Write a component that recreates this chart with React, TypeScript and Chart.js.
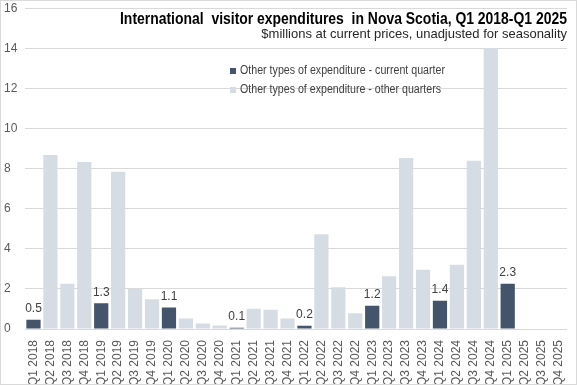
import React, { useEffect, useRef } from "react";
import { Chart, registerables } from "chart.js";

Chart.register(...registerables);

const quarters: string[] = [];
const years = [2018, 2019, 2020, 2021, 2022, 2023, 2024, 2025];
for (const y of years) for (const q of [1, 2, 3, 4]) quarters.push(`Q${q} ${y}`);

// Other types of expenditure - current quarter (Q1 values)
const currentQuarter: (number | null)[] = [
  0.46, null, null, null,
  1.28, null, null, null,
  1.07, null, null, null,
  0.06, null, null, null,
  0.16, null, null, null,
  1.16, null, null, null,
  1.41, null, null, null,
  2.26, null, null, null,
];

// Other types of expenditure - other quarters
const otherQuarters: (number | null)[] = [
  null, 8.68, 2.26, 8.33,
  null, 7.84, 2.0, 1.48,
  null, 0.52, 0.28, 0.17,
  null, 1.01, 0.96, 0.52,
  null, 4.73, 2.08, 0.78,
  null, 2.63, 8.53, 2.96,
  null, 3.2, 8.39, 14.0,
  null, null, null, null,
];

const yTicks = [0, 2, 4, 6, 8, 10, 12, 14, 16];

const titleText = "International  visitor expenditures  in Nova Scotia, Q1 2018-Q1 2025";
const subtitleText = "$millions at current prices, unadjusted for seasonality";
const legendCurrent = "Other types of expenditure - current quarter";
const legendOther = "Other types of expenditure - other quarters";

const DARK = "#44546A";
const LIGHT = "#D6DCE4";
const SANS = '"Liberation Sans", Arial, sans-serif';

// draw text horizontally compressed to a target width
function drawFitted(
  ctx: CanvasRenderingContext2D,
  text: string,
  x: number,
  y: number,
  width: number,
  align: "left" | "right"
) {
  const w = ctx.measureText(text).width;
  const s = Math.min(1, width / w);
  ctx.save();
  ctx.translate(x, y);
  ctx.scale(s, 1);
  ctx.textAlign = align;
  ctx.fillText(text, 0, 0);
  ctx.restore();
}

const overlayPlugin = {
  id: "overlay",
  afterDatasetsDraw(chart: any) {
    const ctx = chart.ctx as CanvasRenderingContext2D;
    ctx.save();
    const meta = chart.getDatasetMeta(0);
    ctx.font = `12px ${SANS}`;
    ctx.fillStyle = "#404040";
    ctx.textAlign = "center";
    ctx.textBaseline = "bottom";
    meta.data.forEach((el: any, i: number) => {
      const v = currentQuarter[i];
      if (v == null) return;
      ctx.fillText(v.toFixed(1), el.x, el.y - 5);
    });
    ctx.restore();
  },
  afterDraw(chart: any) {
    const ctx = chart.ctx as CanvasRenderingContext2D;
    const area = chart.chartArea;
    ctx.save();
    ctx.textBaseline = "alphabetic";
    ctx.fillStyle = "#000000";
    ctx.font = `bold 17px ${SANS}`;
    drawFitted(ctx, titleText, area.right, 23, 447, "right");
    ctx.fillStyle = "#262626";
    ctx.font = `13px ${SANS}`;
    drawFitted(ctx, subtitleText, area.right, 37, 307, "right");
    ctx.textBaseline = "middle";
    ctx.font = `12.5px ${SANS}`;
    const lx = 229;
    const items = [
      { c: DARK, t: legendCurrent, y: 70, w: 205 },
      { c: LIGHT, t: legendOther, y: 89, w: 201 },
    ];
    for (const it of items) {
      ctx.fillStyle = it.c;
      ctx.fillRect(lx, it.y - 3, 6, 6);
      ctx.fillStyle = "#404040";
      drawFitted(ctx, it.t, lx + 10, it.y, it.w, "left");
    }
    ctx.restore();
  },
};

export default function App() {
  const ref = useRef<HTMLCanvasElement | null>(null);
  useEffect(() => {
    document.body.style.margin = "0";
    const canvas = ref.current!;
    const chart = new Chart(canvas, {
      type: "bar",
      data: {
        labels: quarters,
        datasets: [
          {
            label: legendCurrent,
            data: currentQuarter,
            backgroundColor: DARK,
            barPercentage: 0.84,
            categoryPercentage: 1,
          },
          {
            label: legendOther,
            data: otherQuarters,
            backgroundColor: LIGHT,
            barPercentage: 0.84,
            categoryPercentage: 1,
          },
        ],
      },
      options: {
        responsive: false,
        animation: false,
        layout: { padding: { top: 6, right: 5, left: 3, bottom: 0 } },
        plugins: {
          legend: { display: false },
          title: { display: false },
          tooltip: { enabled: false },
        },
        scales: {
          x: {
            stacked: true,
            grid: { display: false },
            border: { display: true, color: "#d9d9d9" },
            afterFit: (scale: any) => {
              scale.height = 55;
            },
            ticks: {
              color: "#595959",
              font: { size: 12, family: SANS },
              minRotation: 90,
              maxRotation: 90,
              autoSkip: false,
              padding: 3,
            },
          },
          y: {
            stacked: true,
            min: 0,
            max: 16,
            afterBuildTicks: (scale: any) => {
              scale.ticks = yTicks.map((v) => ({ value: v }));
            },
            afterFit: (scale: any) => {
              scale.width = 21;
            },
            grid: { color: "#d9d9d9", drawTicks: false },
            border: { display: false },
            ticks: {
              color: "#595959",
              font: { size: 12, family: SANS },
              crossAlign: "far",
              padding: 0,
            },
          },
        },
      },
      plugins: [overlayPlugin],
    } as any);
    return () => chart.destroy();
  }, []);
  return (
    <div style={{ width: 575, height: 383, border: "1px solid #d9d9d9", background: "#fff" }}>
      <canvas ref={ref} width={575} height={383} style={{ display: "block" }} />
    </div>
  );
}
